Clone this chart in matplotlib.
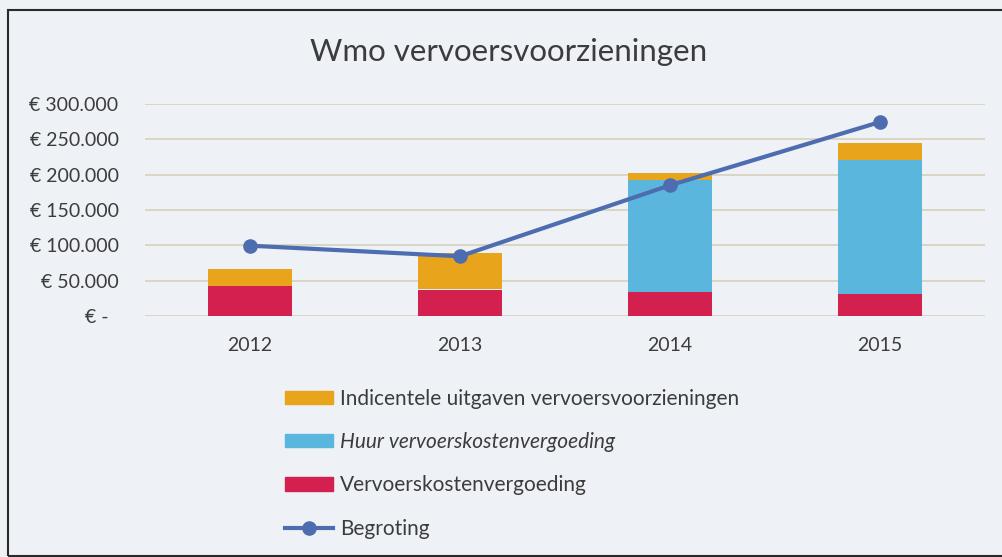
import matplotlib.pyplot as plt
import matplotlib.patches as mpatches
from matplotlib.lines import Line2D
import numpy as np

jaren = ['2012', '2013', '2014', '2015']
vervoerskosten = [42500, 37500, 34000, 31500]        # rood
huur = [0, 0, 158000, 189000]                        # blauw
incidenteel = [24000, 51000, 10000, 24500]           # oranje
begroting = [99500, 84500, 185000, 274500]           # lijn

kleur_rood = '#D4204E'
kleur_blauw = '#5BB6DD'
kleur_oranje = '#E8A41A'
kleur_lijn = '#4D6DB0'
tekst = '#3C3C3C'
achtergrond = '#EEF2F7'

plt.rcParams['font.family'] = ['Lato', 'DejaVu Sans']

fig = plt.figure(figsize=(10.03, 5.57), dpi=100)
fig.patch.set_facecolor(achtergrond)
# kader rond de grafiek
fig.patches.append(mpatches.Rectangle((8 / 1003, 1 - 556 / 557), 1.2, (556 - 10) / 557,
                                      transform=fig.transFigure, fill=False,
                                      edgecolor='#2A2A2A', linewidth=1.5))

ax = fig.add_axes([145 / 1003, 1 - 316 / 557, 840 / 1003, 212 / 557])
ax.set_facecolor(achtergrond)

x = np.arange(len(jaren))
b = 0.4
ax.bar(x, vervoerskosten, width=b, color=kleur_rood, zorder=2)
ax.bar(x, huur, width=b, bottom=vervoerskosten, color=kleur_blauw, zorder=2)
onder = np.array(vervoerskosten) + np.array(huur)
ax.bar(x, incidenteel, width=b, bottom=onder, color=kleur_oranje, zorder=2)
ax.plot(x, begroting, color=kleur_lijn, linewidth=3, marker='o', markersize=9.5, zorder=3)

ax.set_xlim(-0.5, 3.5)
ax.set_ylim(0, 300000)
ax.set_yticks(np.arange(0, 300001, 50000))
ax.set_yticklabels(['€ -  ' if v == 0 else '€ ' + f'{v:,}'.replace(',', '.') for v in range(0, 300001, 50000)])
ax.set_xticks(x)
ax.set_xticklabels(jaren)
ax.tick_params(length=0, labelsize=14, colors=tekst)
ax.tick_params(axis='y', pad=19)
ax.tick_params(axis='x', pad=15)
for s in ax.spines.values():
    s.set_visible(False)
ax.grid(axis='y', color='#D6D0BC', linewidth=1.2, zorder=0)
ax.set_axisbelow(True)

fig.text(509 / 1003, 1 - 52 / 557, 'Wmo vervoersvoorzieningen', ha='center', va='center',
         fontsize=22.5, color=tekst)

handles = [mpatches.Patch(color=kleur_oranje), mpatches.Patch(color=kleur_blauw),
           mpatches.Patch(color=kleur_rood),
           Line2D([], [], color=kleur_lijn, linewidth=3, marker='o', markersize=9.5)]
labels = ['Indicentele uitgaven vervoersvoorzieningen', 'Huur vervoerskostenvergoeding',
          'Vervoerskostenvergoeding', 'Begroting']
leg = fig.legend(handles, labels, loc='upper left', bbox_to_anchor=(266 / 1003, 1 - 370 / 557),
                 frameon=False, fontsize=15, handlelength=2.3, handleheight=0.6,
                 handletextpad=0.35, labelspacing=1.12, labelcolor=tekst)
leg.get_texts()[1].set_style('italic')

fig.savefig('out.png', dpi=100, facecolor=achtergrond)
